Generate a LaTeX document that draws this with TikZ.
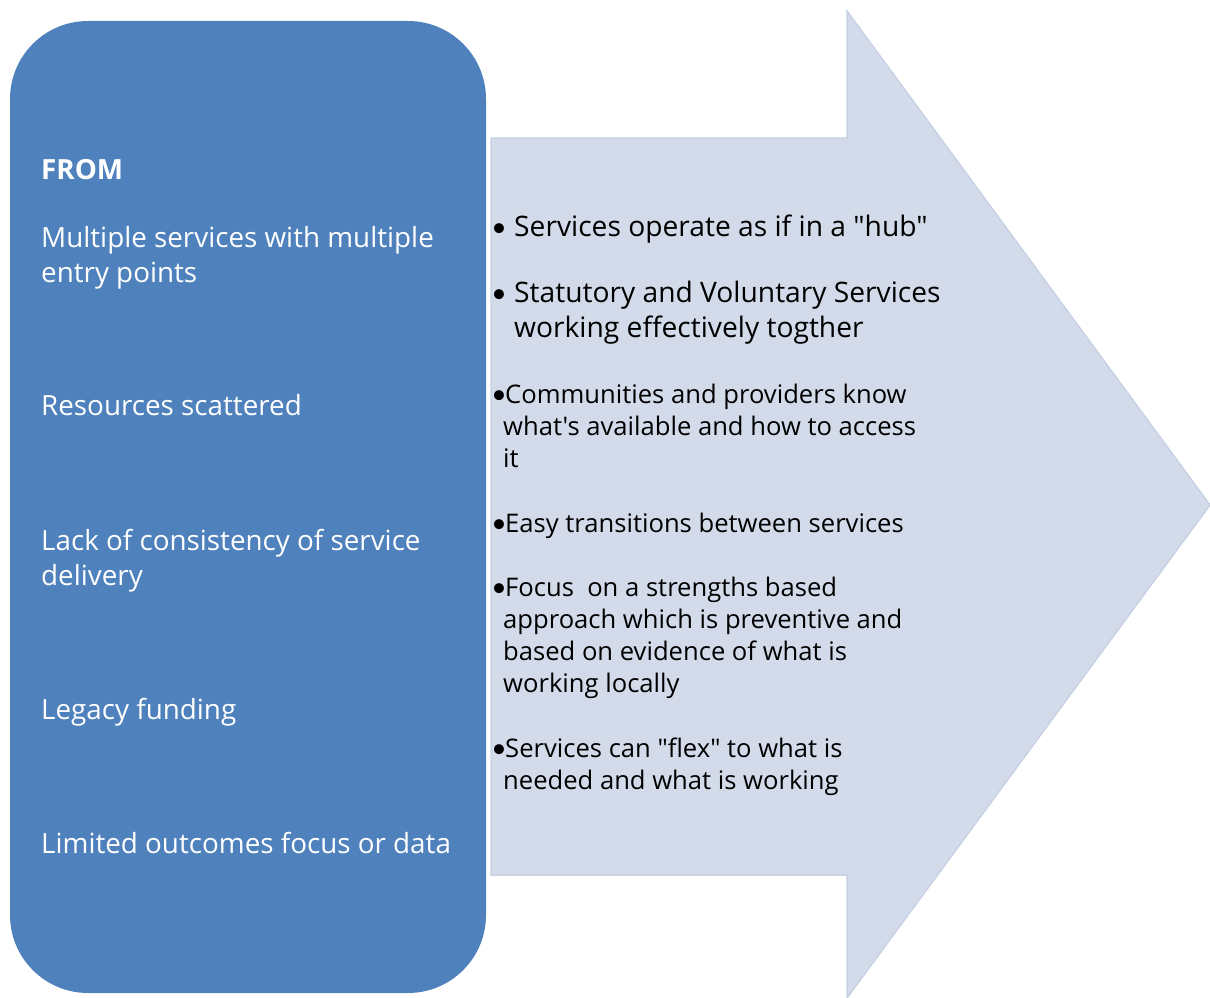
\documentclass[tikz,border=0pt]{standalone}
\usepackage{fontspec}
\setmainfont{Open Sans}[Ligatures=TeXOff]
\newfontfamily\bulletfont{Carlito}
\definecolor{boxblue}{RGB}{79,129,189}
\definecolor{arrowfill}{RGB}{211,219,234}
\definecolor{arrowedge}{RGB}{200,210,229}
\begin{document}
\begin{tikzpicture}[x=1pt,y=-1pt,
  lefttext/.style={anchor=base west,inner sep=0pt,text=white,font=\fontsize{27.8}{33}\selectfont},
  bigright/.style={anchor=base west,inner sep=0pt,text=black,font=\fontsize{28.2}{33}\selectfont},
  smallright/.style={anchor=base west,inner sep=0pt,text=black,font=\fontsize{25.6}{31}\selectfont},
  bulletmark/.style={anchor=base west,inner sep=0pt,text=black,font=\bulletfont\fontsize{28}{33}\selectfont}]
\useasboundingbox (0,0) rectangle (1210,998);
% arrow
\draw[fill=arrowfill,draw=arrowedge,line width=1.5pt,line join=miter]
  (491,138) -- (847,138) -- (847,11) -- (1210,505) -- (847,998) -- (847,875) -- (491,875) -- cycle;
% left box
\fill[boxblue,rounded corners=78pt] (10,21) rectangle (486,993);
% left text
\node[lefttext,font=\bfseries\fontsize{27.8}{33}\selectfont] (from) at (41,179) {FROM};
\node[lefttext] (l1a) at (41,247) {Multiple services with multiple};
\node[lefttext] (l1b) at (41,282) {entry points};
\node[lefttext] (l2) at (41,415) {Resources scattered};
\node[lefttext] (l3a) at (41,550) {Lack of consistency of service};
\node[lefttext] (l3b) at (41,585) {delivery};
\node[lefttext] (l4) at (41,719) {Legacy funding};
\node[lefttext] (l5) at (41,853) {Limited outcomes focus or data};
% right text
\node[bulletmark] (r1b) at (492,236) {•};
\node[bigright] (r1) at (514,236) {Services operate as if in a "hub"};
\node[bulletmark] (r2b) at (492,302) {•};
\node[bigright] (r2a) at (514,302) {Statutory and Voluntary Services};
\node[bigright] (r2c) at (514,337) {working effectively togther};
\node[bulletmark] (r3b0) at (492,403) {•};
\node[smallright] (r3a) at (505,403) {Communities and providers know};
\node[smallright] (r3b) at (503,435) {what's available and how to access};
\node[smallright] (r3c) at (503,467) {it};
\node[bulletmark] (r4b) at (492,532) {•};
\node[smallright] (r4) at (505,532) {Easy transitions between services};
\node[bulletmark] (r5b0) at (492,596) {•};
\node[smallright] (r5a) at (505,596) {Focus\ \ on a strengths based};
\node[smallright] (r5b) at (503,628) {approach which is preventive and};
\node[smallright] (r5c) at (503,660) {based on evidence of what is};
\node[smallright] (r5d) at (503,692) {working locally};
\node[bulletmark] (r6b0) at (492,757) {•};
\node[smallright] (r6a) at (505,757) {Services can "flex" to what is};
\node[smallright] (r6b) at (503,789) {needed and what is working};
\end{tikzpicture}
\end{document}
